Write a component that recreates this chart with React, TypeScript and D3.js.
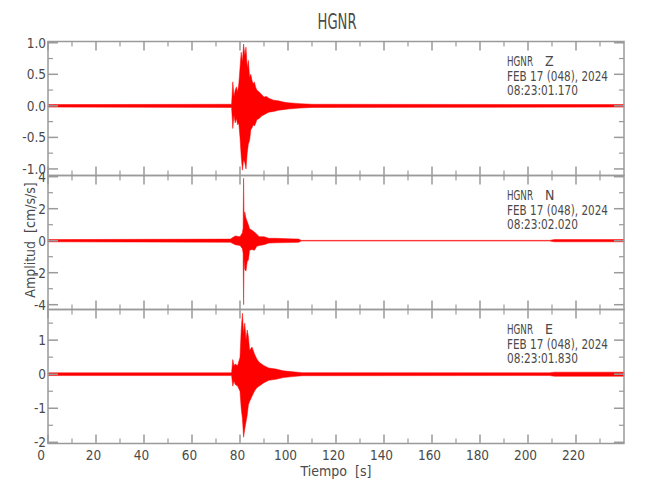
import React from "react";
import * as d3 from "d3";

// ---------- data ----------
const title = "HGNR";
const station = "HGNR";
const dateLine = "FEB 17 (048), 2024";
const components = ["Z", "N", "E"];
const startTimes = ["08:23:01.170", "08:23:02.020", "08:23:01.830"];

const xMajorTicks = [0, 20, 40, 60, 80, 100, 120, 140, 160, 180, 200, 220];
const xMinorTicks = [10, 30, 50, 70, 90, 110, 130, 150, 170, 190, 210, 230];
const timeMax = 240;

// Z component envelope (cm/s/s)
const zTime = [0, 76.5, 77, 77.5, 78, 78.5, 79, 79.5, 80, 80.5, 81, 81.5, 82, 82.5, 83, 83.5, 84, 84.5, 85, 85.5, 86, 86.5, 87, 88, 89, 90, 91, 92, 94, 96, 98, 100, 105, 110, 240];
const zUpper = [0.02, 0.025, 0.38, 0.15, 0.25, 0.3, 0.22, 0.35, 0.6, 0.85, 0.7, 0.98, 0.8, 0.93, 0.6, 0.72, 0.45, 0.5, 0.4, 0.35, 0.38, 0.3, 0.25, 0.22, 0.18, 0.14, 0.15, 0.12, 0.09, 0.08, 0.06, 0.05, 0.035, 0.025, 0.02];
const zLower = [-0.02, -0.025, -0.36, -0.15, -0.27, -0.2, -0.3, -0.28, -0.5, -0.8, -1.02, -0.85, -0.9, -1.0, -0.75, -0.6, -0.55, -0.38, -0.35, -0.3, -0.32, -0.28, -0.22, -0.2, -0.16, -0.14, -0.12, -0.1, -0.09, -0.07, -0.06, -0.05, -0.035, -0.025, -0.02];

// N component envelope
const nTime = [0, 76, 78, 80, 81, 81.3, 81.5, 81.7, 82, 82.5, 83, 83.5, 84, 85, 86, 87, 88, 90, 92, 95, 100, 104.5, 105.5, 209, 211, 240];
const nUpper = [0.07, 0.1, 0.3, 0.25, 0.5, 0.8, 3.9, 1.5, 1.8, 1.4, 1.2, 1.0, 0.75, 0.65, 0.55, 0.4, 0.25, 0.25, 0.15, 0.15, 0.12, 0.1, 0.02, 0.02, 0.07, 0.07];
const nLower = [-0.07, -0.1, -0.25, -0.3, -0.5, -0.8, -4.0, -1.2, -1.8, -1.9, -1.3, -1.2, -0.6, -0.55, -0.6, -0.35, -0.3, -0.25, -0.15, -0.13, -0.12, -0.1, -0.02, -0.02, -0.07, -0.07];

// E component envelope
const eTime = [0, 76.5, 77, 77.5, 78, 79, 80, 80.5, 81, 81.5, 82, 82.5, 83, 83.5, 84, 85, 86, 87, 88, 89, 90, 92, 95, 98, 102, 106, 209, 211, 240];
const eUpper = [0.04, 0.04, 0.43, 0.25, 0.3, 0.25, 0.5, 1.3, 1.79, 1.2, 1.5, 1.0, 1.3, 1.1, 0.7, 0.8, 0.6, 0.45, 0.35, 0.3, 0.25, 0.18, 0.15, 0.1, 0.07, 0.045, 0.04, 0.06, 0.06];
const eLower = [-0.04, -0.04, -0.35, -0.2, -0.3, -0.35, -0.5, -1.0, -1.3, -1.85, -1.6, -1.4, -1.2, -0.9, -0.8, -0.65, -0.5, -0.4, -0.35, -0.3, -0.25, -0.18, -0.15, -0.1, -0.07, -0.045, -0.04, -0.06, -0.06];

// y-axis domains and ticks per panel
const zDomain = [-1.104, 1.02];
const nDomain = [-4.3, 4.075];
const eDomain = [-2.035, 1.9];
const zMajor = [-1.0, -0.5, 0.0, 0.5, 1.0];
const zMajorLabels = ["-1.0", "-0.5", "0.0", "0.5", "1.0"];
const zMinor = [-0.75, -0.25, 0.25, 0.75];
const nMajor = [-4, -2, 0, 2, 4];
const nMajorLabels = ["-4", "-2", "0", "2", "4"];
const nMinor = [-3, -1, 1, 3];
const eMajor = [-2, -1, 0, 1];
const eMajorLabels = ["-2", "-1", "0", "1"];
const eMinor = [-1.5, -0.5, 0.5, 1.5];

// ---------- layout ----------
const W = 650;
const H = 500;
const left = 48;
const right = 624;
const panelTops = [41.5, 175.5, 309.5];
const panelH = 134;
const axisColor = "#9a9a9a";
const textColor = "#4a4a4a";
const font = "'Liberation Sans Narrow', 'DejaVu Sans Condensed', 'Open Sans', sans-serif";

export default function App() {
  const x = d3.scaleLinear().domain([0, timeMax]).range([left, right]);

  const panels = [
    { time: zTime, up: zUpper, lo: zLower, dom: zDomain, major: zMajor, labels: zMajorLabels, minor: zMinor },
    { time: nTime, up: nUpper, lo: nLower, dom: nDomain, major: nMajor, labels: nMajorLabels, minor: nMinor },
    { time: eTime, up: eUpper, lo: eLower, dom: eDomain, major: eMajor, labels: eMajorLabels, minor: eMinor },
  ];

  return (
    <svg width={W} height={H} style={{ position: "absolute", left: 0, top: 0, background: "#fff" }} fontFamily={font}>
      <rect x={0} y={0} width={W} height={H} fill="#fff" />
      <text x={337} y={22} textAnchor="middle" dominantBaseline="central" fontSize={21} fill={textColor} textLength={39} lengthAdjust="spacingAndGlyphs">
        {title}
      </text>

      {panels.map((p, i) => {
        const top = panelTops[i];
        const bottom = top + panelH;
        const y = d3.scaleLinear().domain(p.dom).range([bottom, top]);
        const idx = d3.range(p.time.length);
        const area = d3
          .area<number>()
          .x((k) => x(p.time[k]))
          .y0((k) => y(p.lo[k]))
          .y1((k) => y(p.up[k]))
          .curve(d3.curveLinear);
        return (
          <g key={i}>
            <path d={area(idx) || ""} fill="#ff0000" stroke="#ff0000" strokeWidth={0.5} />
            {/* frame */}
            <rect x={left} y={top} width={right - left} height={panelH} fill="none" stroke={axisColor} strokeWidth={1.5} />
            {/* x ticks top & bottom */}
            {xMajorTicks.map((t) => (
              <g key={"M" + t}>
                <line x1={x(t)} x2={x(t)} y1={top} y2={top + 9} stroke={axisColor} strokeWidth={1.5} />
                <line x1={x(t)} x2={x(t)} y1={bottom} y2={bottom - 9} stroke={axisColor} strokeWidth={1.5} />
              </g>
            ))}
            {xMinorTicks.map((t) => (
              <g key={"m" + t}>
                <line x1={x(t)} x2={x(t)} y1={top} y2={top + 5} stroke={axisColor} strokeWidth={1.2} />
                <line x1={x(t)} x2={x(t)} y1={bottom} y2={bottom - 5} stroke={axisColor} strokeWidth={1.2} />
              </g>
            ))}
            {/* y ticks left & right */}
            {p.major.map((v, k) => (
              <g key={"Y" + k}>
                <line x1={left} x2={left + 10} y1={y(v)} y2={y(v)} stroke={axisColor} strokeWidth={1.5} />
                <line x1={right} x2={right - 10} y1={y(v)} y2={y(v)} stroke={axisColor} strokeWidth={1.5} />
                <text x={46} y={y(v)} textAnchor="end" dominantBaseline="central" fontSize={13.5} fill={textColor}>
                  {p.labels[k]}
                </text>
              </g>
            ))}
            {p.minor.map((v, k) => (
              <g key={"y" + k}>
                <line x1={left} x2={left + 5} y1={y(v)} y2={y(v)} stroke={axisColor} strokeWidth={1.2} />
                <line x1={right} x2={right - 5} y1={y(v)} y2={y(v)} stroke={axisColor} strokeWidth={1.2} />
              </g>
            ))}
            {/* annotation */}
            <g fontSize={14} fill={textColor}>
              <text x={507} y={top + 19} dominantBaseline="central" textLength={26} lengthAdjust="spacingAndGlyphs">{station}</text>
              <text x={545} y={top + 19} dominantBaseline="central">{components[i]}</text>
              <text x={507} y={top + 34} dominantBaseline="central" textLength={101} lengthAdjust="spacingAndGlyphs">{dateLine}</text>
              <text x={507} y={top + 48.5} dominantBaseline="central" textLength={71} lengthAdjust="spacingAndGlyphs">{startTimes[i]}</text>
            </g>
          </g>
        );
      })}

      {/* x tick labels */}
      {xMajorTicks.map((t, k) => (
        <text key={t} x={x(t) - (k === 0 ? 7 : 2.5)} y={455} textAnchor="middle" dominantBaseline="central" fontSize={13.5} fill={textColor}>
          {String(t)}
        </text>
      ))}
      <text x={336} y={471} textAnchor="middle" dominantBaseline="central" fontSize={14} fill={textColor} style={{ whiteSpace: "pre" }}>
        {"Tiempo  [s]"}
      </text>
      <text transform="translate(30,240) rotate(-90)" textAnchor="middle" dominantBaseline="central" fontSize={14} fill={textColor} style={{ whiteSpace: "pre" }}>
        {"Amplitud  [cm/s/s]"}
      </text>
    </svg>
  );
}
